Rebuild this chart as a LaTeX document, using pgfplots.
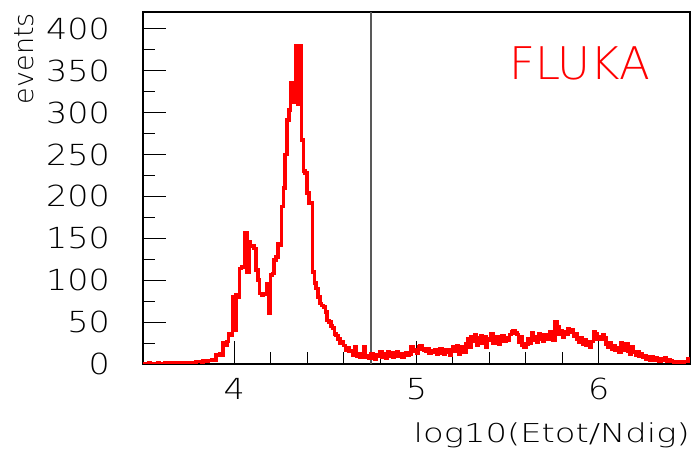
\documentclass[border=0pt]{standalone}
\usepackage{fontspec}
\usepackage{pgfplots}
\pgfplotsset{compat=1.18}
\newfontfamily\tickfont{DejaVu Sans ExtraLight}[FakeStretch=1.15]
\newfontfamily\labelfont{DejaVu Sans ExtraLight}[FakeStretch=1.3]
\newfontfamily\plainfont{DejaVu Sans ExtraLight}
\begin{document}
\begin{tikzpicture}
\useasboundingbox (0,0) rectangle (700bp,460bp);
\begin{axis}[
  at={(143bp,96bp)}, anchor=south west,
  scale only axis, width=547bp, height=352bp,
  xmin=3.5, xmax=6.5, ymin=0, ymax=420,
  xtick={4,5,6}, minor x tick num=4,
  ytick={0,50,...,400}, minor y tick num=1,
  xtick pos=bottom, ytick pos=left,
  tick align=inside,
  major tick length=23bp, minor tick length=12bp,
  tick style={black, line width=1bp},
  axis line style={black, line width=1.3bp},
  /pgf/number format/assume math mode=true,
  every tick label/.append style={font=\tickfont\fontsize{29bp}{29bp}\selectfont},
  yticklabel style={anchor=east, inner sep=0pt, xshift=-33bp},
  xticklabel style={anchor=base, inner sep=0pt, yshift=-36bp},
]
\addplot[gray!70!black, line width=1.3bp] coordinates {(4.75,0) (4.75,420)};
\addplot[red, line width=3.6bp, const plot, line join=miter] coordinates {
(3.50,0) (3.51,0) (3.52,0) (3.53,1) (3.54,0) (3.55,0) (3.56,0) (3.57,0) (3.58,1) (3.59,0)
(3.60,0) (3.61,0) (3.62,1) (3.63,0) (3.64,0) (3.65,1) (3.66,0) (3.67,0) (3.68,1) (3.69,1)
(3.70,1) (3.71,0) (3.72,1) (3.73,2) (3.74,1) (3.75,1) (3.76,2) (3.77,2) (3.78,1) (3.79,3)
(3.80,3) (3.81,3) (3.82,2) (3.83,4) (3.84,3) (3.85,3) (3.86,4) (3.87,4) (3.88,5) (3.89,5)
(3.90,11) (3.91,10) (3.92,12) (3.93,11) (3.94,25) (3.95,22) (3.96,27) (3.97,36) (3.98,34) (3.99,80)
(4.00,40) (4.01,82) (4.02,80) (4.03,114) (4.04,116) (4.05,115) (4.06,156) (4.07,110) (4.08,146) (4.09,140)
(4.10,141) (4.11,138) (4.12,112) (4.13,100) (4.14,84) (4.15,82) (4.16,84) (4.17,83) (4.18,96) (4.19,61)
(4.20,106) (4.21,108) (4.22,124) (4.23,128) (4.24,144) (4.25,142) (4.26,188) (4.27,210) (4.28,250) (4.29,291)
(4.30,303) (4.31,336) (4.32,312) (4.33,336) (4.34,380) (4.35,310) (4.36,380) (4.37,267) (4.38,230) (4.39,228)
(4.40,204) (4.41,192) (4.42,192) (4.43,110) (4.44,97) (4.45,90) (4.46,80) (4.47,72) (4.48,70) (4.49,68)
(4.50,62) (4.51,52) (4.52,50) (4.53,45) (4.54,43) (4.55,36) (4.56,34) (4.57,30) (4.58,25) (4.59,26)
(4.60,22) (4.61,17) (4.62,19) (4.63,15) (4.64,16) (4.65,10) (4.66,20) (4.67,9) (4.68,12) (4.69,8)
(4.70,9) (4.71,20) (4.72,8) (4.73,10) (4.74,7) (4.75,12) (4.76,10) (4.77,6) (4.78,11) (4.79,9)
(4.80,14) (4.81,8) (4.82,12) (4.83,7) (4.84,15) (4.85,9) (4.86,13) (4.87,8) (4.88,10) (4.89,14)
(4.90,9) (4.91,12) (4.92,8) (4.93,11) (4.94,13) (4.95,10) (4.96,12) (4.97,20) (4.98,15) (4.99,17)
(5.00,13) (5.01,20) (5.02,22) (5.03,18) (5.04,17) (5.05,15) (5.06,18) (5.07,13) (5.08,16) (5.09,14)
(5.10,17) (5.11,12) (5.12,15) (5.13,18) (5.14,13) (5.15,12) (5.16,17) (5.17,14) (5.18,10) (5.19,17)
(5.20,20) (5.21,15) (5.22,22) (5.23,12) (5.24,19) (5.25,21) (5.26,14) (5.27,24) (5.28,30) (5.29,20)
(5.30,33) (5.31,27) (5.32,35) (5.33,22) (5.34,31) (5.35,34) (5.36,25) (5.37,33) (5.38,20) (5.39,30)
(5.40,28) (5.41,36) (5.42,25) (5.43,30) (5.44,33) (5.45,24) (5.46,30) (5.47,34) (5.48,27) (5.49,31)
(5.50,28) (5.51,35) (5.52,39) (5.53,40) (5.54,37) (5.55,35) (5.56,26) (5.57,33) (5.58,22) (5.59,20)
(5.60,24) (5.61,30) (5.62,25) (5.63,37) (5.64,28) (5.65,33) (5.66,26) (5.67,36) (5.68,30) (5.69,27)
(5.70,35) (5.71,32) (5.72,29) (5.73,38) (5.74,31) (5.75,28) (5.76,50) (5.77,44) (5.78,36) (5.79,40)
(5.80,32) (5.81,38) (5.82,35) (5.83,42) (5.84,38) (5.85,41) (5.86,33) (5.87,36) (5.88,30) (5.89,26)
(5.90,31) (5.91,24) (5.92,29) (5.93,22) (5.94,26) (5.95,20) (5.96,27) (5.97,38) (5.98,36) (5.99,30)
(6.00,33) (6.01,29) (6.02,35) (6.03,31) (6.04,24) (6.05,20) (6.06,25) (6.07,18) (6.08,22) (6.09,16)
(6.10,19) (6.11,14) (6.12,25) (6.13,21) (6.14,17) (6.15,24) (6.16,15) (6.17,12) (6.18,20) (6.19,14)
(6.20,11) (6.21,15) (6.22,9) (6.23,12) (6.24,8) (6.25,10) (6.26,6) (6.27,9) (6.28,5) (6.29,8)
(6.30,4) (6.31,7) (6.32,5) (6.33,3) (6.34,6) (6.35,4) (6.36,7) (6.37,3) (6.38,5) (6.39,4)
(6.40,3) (6.41,2) (6.42,3) (6.43,2) (6.44,2) (6.45,3) (6.46,2) (6.47,3) (6.48,3) (6.49,6)
(6.50,6)
};
\end{axis}
\node[anchor=base east, inner sep=0pt, font=\labelfont\fontsize{26bp}{26bp}\selectfont] at (690bp,18bp) {log10(Etot/Ndig)};
\node[rotate=90, anchor=base east, inner sep=0pt, font=\plainfont\fontsize{27bp}{27bp}\selectfont] at (33bp,447bp) {events};
\node[anchor=base west, inner sep=0pt, text=red, font=\plainfont\fontsize{45bp}{45bp}\selectfont] at (509bp,380bp) {FLUKA};
\end{tikzpicture}
\end{document}
